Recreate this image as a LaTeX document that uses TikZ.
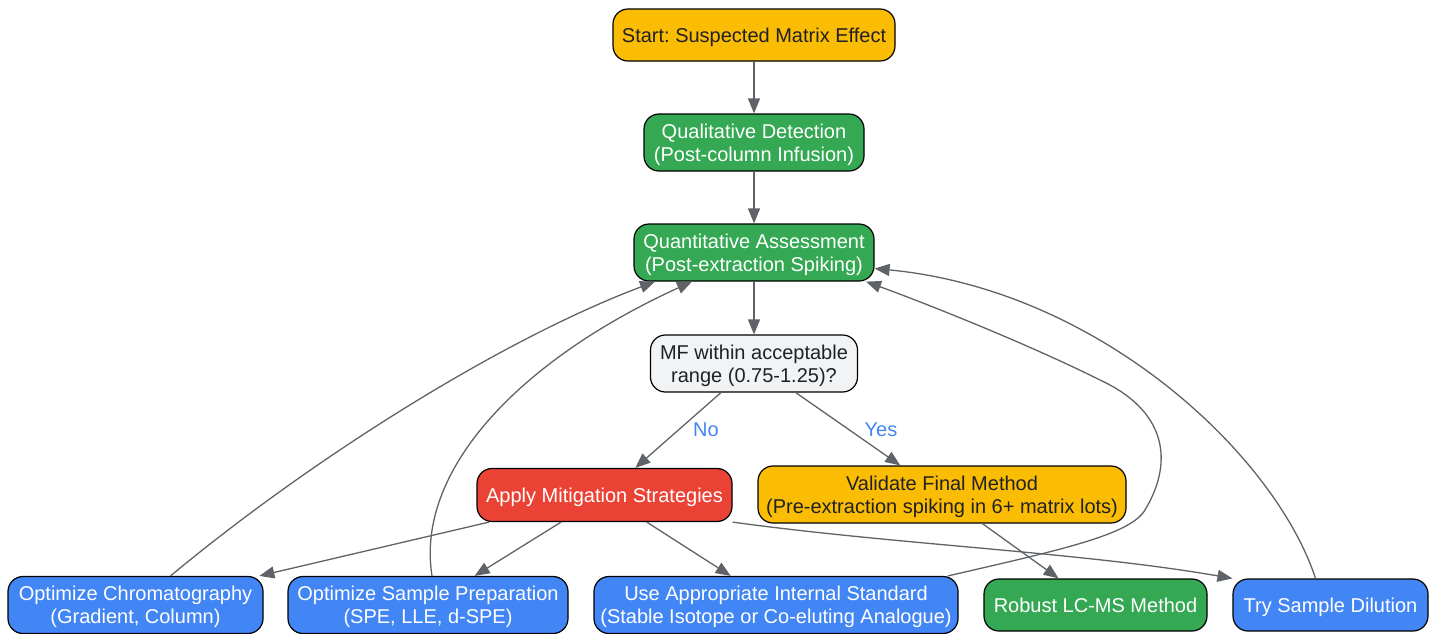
\documentclass[tikz,border=0pt]{standalone}
\usepackage{fontspec}
\setmainfont{Liberation Sans}
\frenchspacing
\usetikzlibrary{arrows.meta}
\definecolor{gyellow}{HTML}{FBBC04}
\definecolor{ggreen}{HTML}{34A853}
\definecolor{gblue}{HTML}{4285F4}
\definecolor{gred}{HTML}{EA4335}
\definecolor{glight}{HTML}{F1F3F4}
\definecolor{gdark}{HTML}{202124}
\definecolor{garrow}{HTML}{5F6368}
\tikzset{
	box/.style={draw=black,line width=1.2pt,rounded corners=15pt,align=center,inner sep=0pt,
		text depth=0pt,minimum height=57pt,font=\fontsize{20}{23}\selectfont},
	ybox/.style={box,fill=gyellow,text=gdark},
	gbox/.style={box,fill=ggreen,text=white},
	bbox/.style={box,fill=gblue,text=white},
	rbox/.style={box,fill=gred,text=white},
	qbox/.style={box,fill=glight,text=gdark},
	flow/.style={draw=garrow,line width=1.3pt,-{Triangle[length=15pt,width=12pt]}},
	lbl/.style={text=gblue,inner sep=0pt,font=\fontsize{20}{23}\selectfont},
	}
\begin{document}
\begin{tikzpicture}[x=1pt,y=-1pt]
\useasboundingbox (0,0) rectangle (1437,633);

\node (start) at (754,35) [ybox,minimum width=282pt,minimum height=52pt] {Start: Suspected Matrix Effect};
\node (qual) at (754,142.5) [gbox,minimum width=220pt] {Qualitative Detection\\(Post-column Infusion)};
\node (quant) at (754,252.5) [gbox,minimum width=240pt] {Quantitative Assessment\\(Post-extraction Spiking)};
\node (mf) at (754,363.5) [qbox,minimum width=207pt] {MF within acceptable\\range (0.75-1.25)?};
\node (apply) at (604.5,495) [rbox,minimum width=255pt,minimum height=53pt] {Apply Mitigation Strategies};
\node (valid) at (942,494.5) [ybox,minimum width=368pt] {Validate Final Method\\(Pre-extraction spiking in 6+ matrix lots)};
\node (chrom) at (135.5,605) [bbox,minimum width=255pt] {Optimize Chromatography\\(Gradient, Column)};
\node (sample) at (428,605) [bbox,minimum width=280pt] {Optimize Sample Preparation\\(SPE, LLE, d-SPE)};
\node (is) at (776,605) [bbox,minimum width=364pt] {Use Appropriate Internal Standard\\(Stable Isotope or Co-eluting Analogue)};
\node (robust) at (1095.5,605) [gbox,minimum width=223pt,minimum height=52pt] {Robust LC-MS Method};
\node (dil) at (1330.5,605) [bbox,minimum width=195pt,minimum height=52pt] {Try Sample Dilution};

\node (no) at (706,430) [lbl] {No};
\node (yes) at (881,430) [lbl] {Yes};

 \draw[flow] (start) -- (qual);
 \draw[flow] (qual) -- (quant);
 \draw[flow] (quant) -- (mf);
 \draw[flow] (mf) -- (apply);
 \draw[flow] (mf) -- (valid);
 \draw[flow] (apply) -- (chrom);
 \draw[flow] (apply) -- (sample);
 \draw[flow] (apply) -- (is);
 \draw[flow] (apply.south east) .. controls (900,545) and (1080,552) .. (dil.north west);
 \draw[flow] (valid) -- (robust);
% loops back to the assessment
 \draw[flow] ([xshift=35pt]chrom.north) .. controls (310,460) and (500,340) .. ([xshift=-99pt]quant.south);
 \draw[flow] ([xshift=4pt]sample.north) .. controls (415,470) and (520,360) .. ([xshift=-62pt]quant.south);
 \draw[flow] ([xshift=172pt]is.north) .. controls (1060,550) and (1130,535) .. (1145,510)
   .. controls (1175,460) and (1165,410) .. (1100,380)
   .. controls (1030,345) and (930,305) .. ([xshift=112pt]quant.south);
 \draw[flow] ([xshift=-15pt]dil.north) .. controls (1275,455) and (1100,290) .. ([yshift=-16pt]quant.east);
\end{tikzpicture}
\end{document}
